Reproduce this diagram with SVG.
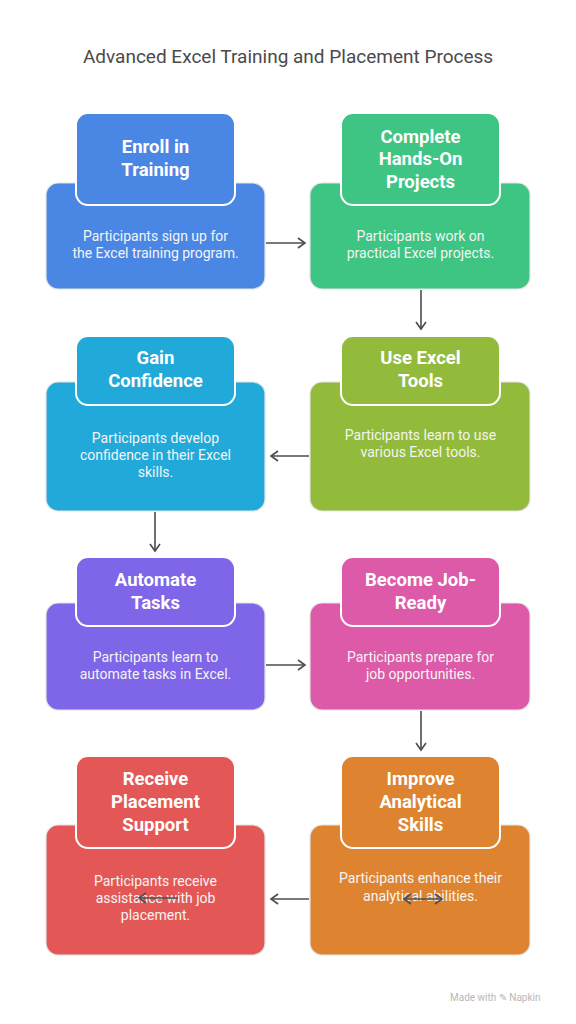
<svg xmlns="http://www.w3.org/2000/svg" width="576" height="1024" viewBox="0 0 576 1024">
<defs>
<style>
.ttl{font-family:Roboto,"Liberation Sans",sans-serif;font-size:19px;fill:#4a4a4a;text-anchor:middle}
.h{font-family:Roboto,"Liberation Sans",sans-serif;font-size:18.5px;font-weight:bold;fill:#ffffff;text-anchor:middle}
.d{font-family:Roboto,"Liberation Sans",sans-serif;font-size:14px;fill:#f4f4f4;text-anchor:middle}
.ob{stroke:#e4e4e4;stroke-width:1.2}
.tb{stroke:#ffffff;stroke-width:2}
.c{fill:none;stroke:#4d4d4d;stroke-width:1.6}
.wm{font-family:Roboto,"Liberation Sans",sans-serif;font-size:10px;fill:#b8b8b8}
</style>
<marker id="ah" viewBox="0 0 12 12" refX="10" refY="6" markerWidth="12" markerHeight="12" markerUnits="userSpaceOnUse" orient="auto-start-reverse">
<path d="M3,1 L10,6 L3,11" fill="none" stroke="#4d4d4d" stroke-width="1.6"/>
</marker>
</defs>
<rect width="576" height="1024" fill="#ffffff"/>
<text class="ttl" x="288" y="63">Advanced Excel Training and Placement Process</text>

<g id="n1">
<rect class="ob" x="46" y="183" width="219" height="106" rx="12" fill="#4a87e4"/>
<rect class="tb" x="76" y="113" width="159" height="92" rx="12" fill="#4a87e4"/>
<text class="h" x="155.5" y="153">Enroll in</text>
<text class="h" x="155.5" y="176">Training</text>
<text class="d" x="155.5" y="241">Participants sign up for</text>
<text class="d" x="155.5" y="258">the Excel training program.</text>
</g>

<g id="n2">
<rect class="ob" x="310" y="183" width="220" height="106" rx="12" fill="#3ec483"/>
<rect class="tb" x="341" y="113" width="159" height="92" rx="12" fill="#3ec483"/>
<text class="h" x="420.5" y="143">Complete</text>
<text class="h" x="420.5" y="165">Hands-On</text>
<text class="h" x="420.5" y="188">Projects</text>
<text class="d" x="420.5" y="241">Participants work on</text>
<text class="d" x="420.5" y="258">practical Excel projects.</text>
</g>

<g id="n3">
<rect class="ob" x="46" y="382" width="219" height="129" rx="12" fill="#21a9d9"/>
<rect class="tb" x="76" y="336" width="159" height="69" rx="12" fill="#21a9d9"/>
<text class="h" x="155.5" y="364">Gain</text>
<text class="h" x="155.5" y="387">Confidence</text>
<text class="d" x="155.5" y="443">Participants develop</text>
<text class="d" x="155.5" y="460">confidence in their Excel</text>
<text class="d" x="155.5" y="477">skills.</text>
</g>

<g id="n4">
<rect class="ob" x="310" y="382" width="220" height="129" rx="12" fill="#93bb3b"/>
<rect class="tb" x="341" y="336" width="159" height="69" rx="12" fill="#93bb3b"/>
<text class="h" x="420.5" y="364">Use Excel</text>
<text class="h" x="420.5" y="387">Tools</text>
<text class="d" x="420.5" y="440">Participants learn to use</text>
<text class="d" x="420.5" y="457">various Excel tools.</text>
</g>

<g id="n5">
<rect class="ob" x="46" y="603" width="219" height="107" rx="12" fill="#7f65e7"/>
<rect class="tb" x="76" y="557" width="159" height="69" rx="12" fill="#7f65e7"/>
<text class="h" x="155.5" y="586">Automate</text>
<text class="h" x="155.5" y="609">Tasks</text>
<text class="d" x="155.5" y="662">Participants learn to</text>
<text class="d" x="155.5" y="679">automate tasks in Excel.</text>
</g>

<g id="n6">
<rect class="ob" x="310" y="603" width="220" height="107" rx="12" fill="#dc5aa8"/>
<rect class="tb" x="341" y="557" width="159" height="69" rx="12" fill="#dc5aa8"/>
<text class="h" x="420.5" y="586">Become Job-</text>
<text class="h" x="420.5" y="609">Ready</text>
<text class="d" x="420.5" y="662">Participants prepare for</text>
<text class="d" x="420.5" y="679">job opportunities.</text>
</g>

<g id="n7">
<rect class="ob" x="46" y="825" width="219" height="130" rx="12" fill="#e35856"/>
<rect class="tb" x="76" y="756" width="159" height="92" rx="12" fill="#e35856"/>
<text class="h" x="155.5" y="785">Receive</text>
<text class="h" x="155.5" y="808">Placement</text>
<text class="h" x="155.5" y="831">Support</text>
<text class="d" x="155.5" y="886">Participants receive</text>
<text class="d" x="155.5" y="903">assistance with job</text>
<text class="d" x="155.5" y="920">placement.</text>
</g>

<g id="n8">
<rect class="ob" x="310" y="825" width="220" height="130" rx="12" fill="#de8431"/>
<rect class="tb" x="341" y="756" width="159" height="92" rx="12" fill="#de8431"/>
<text class="h" x="420.5" y="785">Improve</text>
<text class="h" x="420.5" y="808">Analytical</text>
<text class="h" x="420.5" y="831">Skills</text>
<text class="d" x="420.5" y="883">Participants enhance their</text>
<text class="d" x="420.5" y="901">analytical abilities.</text>
</g>

<g id="connectors">
<line class="c" x1="266" y1="243" x2="305" y2="243" marker-end="url(#ah)"/>
<line class="c" x1="421" y1="290" x2="421" y2="329" marker-end="url(#ah)"/>
<line class="c" x1="309" y1="456" x2="271" y2="456" marker-end="url(#ah)"/>
<line class="c" x1="155" y1="512" x2="155" y2="551" marker-end="url(#ah)"/>
<line class="c" x1="266" y1="665" x2="305" y2="665" marker-end="url(#ah)"/>
<line class="c" x1="421" y1="711" x2="421" y2="750" marker-end="url(#ah)"/>
<line class="c" x1="309" y1="899" x2="271" y2="899" marker-end="url(#ah)"/>
<line class="c" x1="178" y1="898" x2="139" y2="898" marker-end="url(#ah)"/>
<line class="c" x1="404" y1="899" x2="442" y2="899" marker-start="url(#ah)" marker-end="url(#ah)"/>
</g>

<text class="wm" x="450" y="1001">Made with ✎ Napkin</text>
</svg>
